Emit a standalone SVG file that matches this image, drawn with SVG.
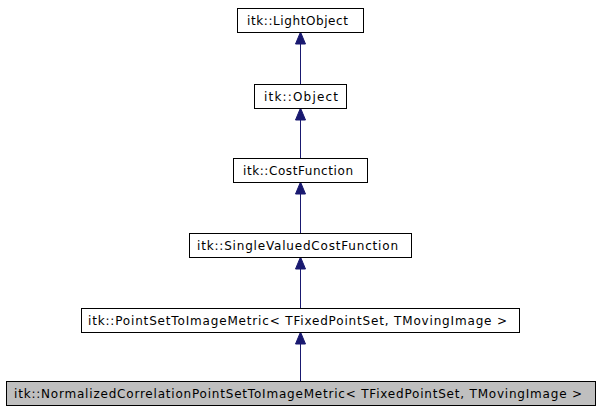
<svg xmlns="http://www.w3.org/2000/svg" width="600" height="411" viewBox="0 0 600 411">
<style>
.box{fill:#ffffff;stroke:#000000;stroke-width:1}
.cur{fill:#bfbfbf;stroke:#000000;stroke-width:1}
.lbl{font-family:"DejaVu Sans",sans-serif;font-size:12px;fill:#000000}
.edge{stroke:#191970;stroke-width:1;fill:none}
.head{fill:#191970;stroke:#191970;stroke-width:1}
</style>
<g id="edges">
<path class="edge" d="M300.5,84V44"/>
<polygon class="head" points="300.5,32 295.5,44 305.5,44"/>
<path class="edge" d="M300.5,158V120"/>
<polygon class="head" points="300.5,108 295.5,120 305.5,120"/>
<path class="edge" d="M300.5,233V194"/>
<polygon class="head" points="300.5,182 295.5,194 305.5,194"/>
<path class="edge" d="M300.5,308V269"/>
<polygon class="head" points="300.5,257 295.5,269 305.5,269"/>
<path class="edge" d="M300.5,381V344"/>
<polygon class="head" points="300.5,332 295.5,344 305.5,344"/>
</g>
<g id="n1"><rect class="box" x="237.5" y="8.5" width="126" height="24"/><text class="lbl" x="247" y="25" textLength="101" lengthAdjust="spacing">itk::LightObject</text></g>
<g id="n2"><rect class="box" x="254.5" y="84.5" width="92" height="24"/><text class="lbl" x="264" y="101" textLength="74" lengthAdjust="spacing">itk::Object</text></g>
<g id="n3"><rect class="box" x="233.5" y="158.5" width="134" height="24"/><text class="lbl" x="243" y="175" textLength="110" lengthAdjust="spacing">itk::CostFunction</text></g>
<g id="n4"><rect class="box" x="189.5" y="233.5" width="222" height="24"/><text class="lbl" x="197" y="250" textLength="201" lengthAdjust="spacing">itk::SingleValuedCostFunction</text></g>
<g id="n5"><rect class="box" x="81.5" y="308.5" width="438" height="24"/><text class="lbl" x="88" y="325" textLength="419" lengthAdjust="spacing">itk::PointSetToImageMetric&lt; TFixedPointSet, TMovingImage &gt;</text></g>
<g id="n6"><rect class="cur" x="6.5" y="381.5" width="589" height="24"/><text class="lbl" x="14" y="398" textLength="568" lengthAdjust="spacing">itk::NormalizedCorrelationPointSetToImageMetric&lt; TFixedPointSet, TMovingImage &gt;</text></g>
</svg>
